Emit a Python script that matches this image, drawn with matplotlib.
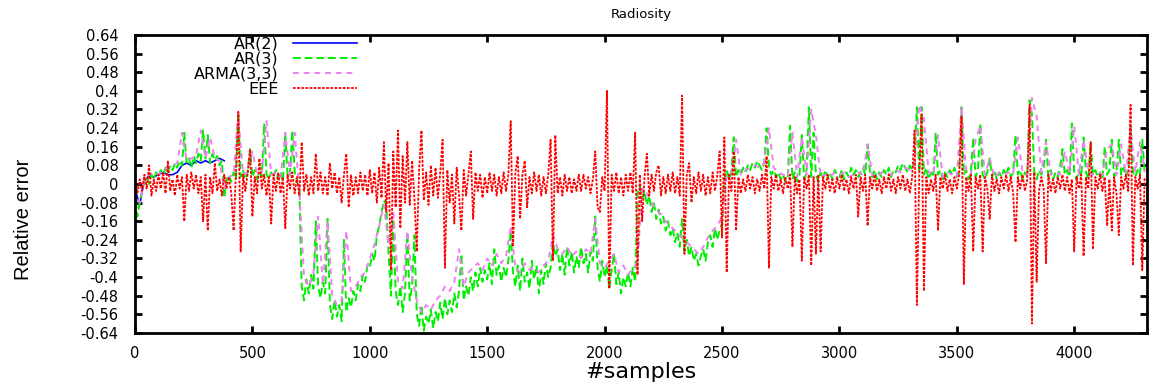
import numpy as np
import matplotlib
matplotlib.use("Agg")
import matplotlib.pyplot as plt

# ---------------- data (relative error, in units of 0.01) ----------------
# AR(3) and EEE sampled every 10 samples, ARMA(3,3) and AR(2) every 20 samples
ar3_pct = [
    -2, -14, -8, -3, 1, 3, 0, 4, 2, 5,
    3, 6, 4, 7, 5, 8, 6, 9, 7, 10,
    8, 22, 9, 11, 7, 12, 9, 13, 10, 23,
    11, 21, 9, 13, 10, 12, 8, 10, -6, 2,
    4, 1, 5, 2, 31, 3, 6, 2, 5, 15,
    3, 6, 2, 5, 3, 26, 4, 2, 5, 3,
    6, 2, 5, 1, 22, 3, 4, 23, 5, 1,
    -3, -44, -50, -41, -47, -39, -45, -16, -44, -49,
    -42, -47, -15, -52, -58, -50, -57, -52, -59, -24,
    -55, -49, -53, -46, -50, -43, -46, -39, -42, -35,
    -36, -30, -33, -22, -18, -12, -7, -9, -30, -48,
    -15, -46, -52, -44, -55, -47, -21, -50, -44, -22,
    -56, -61, -52, -63, -57, -60, -54, -62, -55, -59,
    -51, -58, -49, -56, -50, -55, -47, -53, -46, -30,
    -50, -44, -48, -40, -46, -38, -44, -36, -42, -37,
    -41, -34, -43, -28, -39, -35, -42, -36, -40, -33,
    -20, -38, -44, -35, -46, -32, -42, -38, -45, -33,
    -41, -35, -47, -37, -43, -34, -40, -36, -25, -31,
    -28, -37, -30, -39, -27, -35, -29, -38, -31, -36,
    -27, -34, -30, -38, -29, -33, -14, -36, -42, -33,
    -40, -35, -45, -37, -30, -43, -38, -47, -40, -44,
    -38, -44, -36, -42, -4, -1, -6, -3, -9, -5,
    -12, -8, -15, -11, -17, -14, -20, -16, -22, -19,
    -25, -21, -27, -15, -29, -24, -31, -27, -33, -30,
    -35, -31, -28, -33, -25, -22, -27, -19, -24, -20,
    -17, 2, 6, 2, 5, 20, 3, 6, 4, 7,
    5, 8, 6, 9, 7, 10, 8, 6, 9, 24,
    7, 4, 6, 3, 5, 2, 4, 1, 3, 25,
    2, 5, 1, 4, 21, 2, 5, 33, 3, 22,
    4, 1, 5, 2, 6, 3, 5, 2, 6, 4,
    3, 6, 2, 5, 3, 7, 4, 6, 3, 5,
    7, 4, 17, 5, 3, 6, 2, 5, 3, 6,
    4, 7, 3, 6, 5, 8, 6, 9, 7, 5,
    8, 6, 10, 33, 5, 33, 4, 7, 2, 5,
    3, 22, 4, 6, 2, 5, 3, 6, 4, 7,
    3, 5, 33, 4, 6, 2, 5, 20, 3, 6,
    26, 4, 2, 5, 11, 3, 6, 2, 5, 3,
    6, 4, 7, 3, 5, 21, 4, 6, 2, 5,
    3, 36, 30, 5, 2, 6, 4, 7, 19, 3,
    6, 2, 5, 3, 7, 15, 4, 6, 3, 26,
    5, 2, 6, 3, 20, 5, 2, 18, 4, 6,
    3, 5, 2, 16, 4, 6, 19, 3, 5, 19,
    4, 7, 3, 6, 25, 5, 3, 6, 4, 19,
    5,
]

eee_pct = [
    3, -4, 2, -3, 4, -2, 8, -5, 2, -3,
    4, -2, 5, -4, 10, -3, 2, -5, 4, -2,
    3, -16, 4, -3, 5, -2, 4, -4, 3, -16,
    4, -20, 3, -4, 9, -3, 2, -5, 4, -2,
    3, -4, -20, 5, 31, -29, 4, -3, 5, 15,
    -14, 3, -4, 11, -2, 4, -5, 3, -17, 4,
    -3, 5, -4, 3, -19, 4, -2, 5, -4, 3,
    -5, 18, -3, 4, -5, 3, -4, 13, -3, 5,
    -4, 3, -5, 9, -2, 5, -4, 3, -8, 4,
    13, -10, 4, -5, 3, -4, 5, -3, 4, -5,
    6, -4, 5, -8, 7, -6, 18, -12, 9, -37,
    14, -10, 23, -19, 12, -8, 18, -9, 10, -6,
    -29, 6, 23, -7, 5, -9, 8, -5, 7, -6,
    5, 19, -36, 6, -8, 4, -17, 7, -5, -20,
    6, -5, 4, 14, -15, 5, -3, 4, -6, 3,
    -4, 5, -3, 4, -5, 3, -4, 5, -3, 4,
    27, -27, 5, 12, -15, 4, 10, -10, 3, -4,
    5, -3, 4, -5, 3, -4, 4, 19, -33, 21,
    -4, 3, -5, 4, -3, 3, -4, 2, -3, 4,
    -3, 4, -2, 3, -4, 2, 14, -10, -12, 3,
    -3, 40, -45, 4, -3, 5, -4, 3, -5, 4,
    -3, 5, -4, 22, -39, 4, -16, 3, 13, -5,
    4, -3, 5, 8, -5, 3, -4, 4, -3, 5,
    -4, 3, -5, 38, -30, 4, 9, -8, 3, -4,
    5, -3, 4, -5, 3, -4, 5, -3, 4, 14,
    -23, 20, -38, 4, -3, 14, -20, 3, -4, 2,
    -3, 4, -2, 3, -4, 2, -3, 4, -2, 12,
    -36, 3, -2, 4, -3, 2, -4, 3, -2, 4,
    -27, 3, -4, 2, -33, 3, -2, 4, -35, 3,
    -30, 4, -29, 3, -2, 4, -3, 2, -4, 3,
    -2, 4, -3, 2, -4, 3, -2, 4, -14, 3,
    -3, 4, -18, 3, -2, 4, -3, 2, -4, 3,
    -2, 4, -3, 2, -4, 3, -2, 4, -3, 2,
    -4, 3, 23, -52, 4, 30, -46, 3, -4, 2,
    -3, 4, -20, 3, -2, 4, -3, 2, -4, 3,
    -2, 4, 29, -43, 3, -3, 4, -29, 3, -2,
    4, -29, 3, -2, -15, 4, -3, 2, -4, 3,
    -2, 4, -3, 3, -4, -25, 3, -2, 4, -3,
    2, 34, -60, 5, -42, -3, 3, -2, -34, 4,
    -3, 2, -4, 3, -2, 4, -3, 3, -4, 2,
    -29, 3, -2, 4, -31, 3, -2, 18, -28, 3,
    -2, 4, -3, 3, -18, 2, -20, 3, -4, -22,
    3, -2, 4, -3, 34, -35, 3, -2, 4, -37,
    3,
]

arma_pct = [
    -2, -8, 2, 4, 5, 4, 6, 7, 8, 9,
    22, 10, 11, 12, 23, 11, 20, 11, 10, -2,
    3, 4, 30, 4, 5, 14, 4, 5, 27, 4,
    5, 3, 22, 4, 22, -3, -40, -44, -38, -14,
    -43, -16, -48, -52, -50, -20, -46, -44, -40, -38,
    -32, -26, -18, -9, -26, -12, -42, -45, -20, -40,
    -50, -55, -52, -54, -50, -48, -44, -46, -42, -28,
    -44, -38, -36, -34, -37, -32, -35, -30, -34, -31,
    -18, -36, -38, -34, -37, -36, -38, -35, -33, -22,
    -28, -30, -27, -31, -29, -32, -28, -30, -15, -34,
    -36, -33, -30, -38, -35, -39, -36, -34, -2, -4,
    -8, -11, -13, -16, -18, -20, -22, -24, -26, -28,
    -30, -27, -23, -20, -18, -14, 3, 4, 19, 4,
    6, 7, 8, 7, 9, 24, 7, 5, 4, 3,
    22, 3, 20, 4, 32, 21, 3, 4, 3, 5,
    4, 5, 3, 4, 5, 4, 17, 4, 3, 5,
    5, 4, 6, 5, 7, 6, 8, 34, 28, 5,
    4, 21, 3, 5, 4, 3, 33, 5, 4, 19,
    25, 4, 11, 3, 5, 4, 5, 4, 20, 5,
    4, 37, 29, 5, 18, 4, 5, 4, 14, 5,
    25, 4, 19, 5, 4, 5, 4, 15, 17, 4,
    17, 4, 24, 5, 18, 5,
]

ar2_pct = [-2, -9, 2, 3, 3, 4, 5, 4, 4, 5, 8, 9, 8, 10, 9, 10, 9, 10, 11, 10]

series_names = ["AR(2)", "AR(3)", "ARMA(3,3)", "EEE"]
x_ticks = [0, 500, 1000, 1500, 2000, 2500, 3000, 3500, 4000]
y_ticks = [round(-0.64 + 0.08 * i, 2) for i in range(17)]

# sample indices
s10 = np.arange(len(ar3_pct)) * 10
s20 = np.arange(len(arma_pct)) * 20
s20b = np.arange(len(ar2_pct)) * 20

ar3 = np.array(ar3_pct) / 100.0
eee = np.array(eee_pct) / 100.0
arma = np.array(arma_pct) / 100.0
ar2 = np.array(ar2_pct) / 100.0

# ---------------- figure ----------------
plt.rcParams['font.family'] = ['DejaVu Sans']
fig = plt.figure(figsize=(11.52, 3.85), dpi=100)
ax = fig.add_axes([135 / 1152, 1 - 333 / 385, (1147 - 135) / 1152, (333 - 35) / 385])

ax.plot(s20b, ar2, color='#0000ff', lw=1.2, label=series_names[0])
ax.plot(s10, ar3, color='#00ee00', lw=1.4, dashes=(4, 2), label=series_names[1])
ax.plot(s20, arma, color='#ee82ee', lw=1.4, dashes=(3, 2.5), label=series_names[2])
ax.plot(s10, eee, color='#ff0000', lw=1.3, dashes=(1.5, 0.8), label=series_names[3])

ax.set_xlim(0, 4310)
ax.set_ylim(-0.64, 0.64)
ax.set_xticks(x_ticks)
ax.set_xticklabels([str(t) for t in x_ticks])
ax.set_yticks(y_ticks)
ax.set_yticklabels(['%g' % t for t in y_ticks])
ax.tick_params(axis='both', direction='in', length=5, width=2, top=True, right=True,
               labelsize=10.5)
ax.tick_params(axis='y', pad=12)
ax.tick_params(axis='x', pad=9)
for sp in ax.spines.values():
    sp.set_linewidth(2)

ax.set_title("Radiosity", fontsize=9.5, pad=12)
ax.set_xlabel("#samples", fontsize=16, labelpad=1)
ax.set_ylabel("Relative error", fontsize=14.5, family=['Liberation Sans', 'DejaVu Sans'])
ax.yaxis.set_label_coords(-0.101, 0.38)

leg = ax.legend(loc='upper right', bbox_to_anchor=(222 / 1012, 1 - 2 / 298),
                markerfirst=False, frameon=False, fontsize=11.5,
                handlelength=4.0, handletextpad=0.9, labelspacing=0.0,
                borderpad=0, borderaxespad=0)

fig.savefig("out.png", dpi=100)
